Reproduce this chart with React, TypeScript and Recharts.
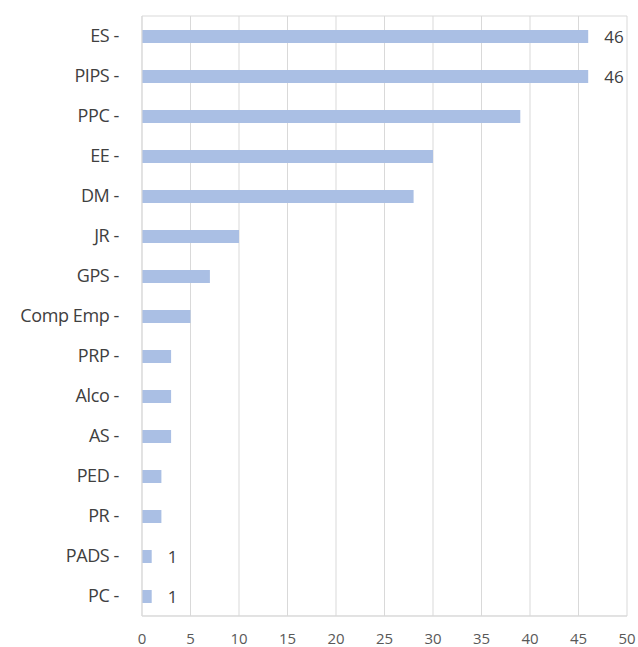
import { BarChart, Bar, XAxis, YAxis, CartesianGrid, LabelList } from "recharts"

const categories = [
  "ES", "PIPS", "PPC", "EE", "DM", "JR", "GPS", "Comp Emp",
  "PRP", "Alco", "AS", "PED", "PR", "PADS", "PC",
]
const counts = [46, 46, 39, 30, 28, 10, 7, 5, 3, 3, 3, 2, 2, 1, 1]
const labelled = ["ES", "PIPS", "PADS", "PC"]
const xTicks = [0, 5, 10, 15, 20, 25, 30, 35, 40, 45, 50]

const data = categories.map((name, i) => ({
  name,
  count: counts[i],
  label: labelled.includes(name) ? String(counts[i]) : "",
}))

const font = "'Open Sans', 'Liberation Sans', sans-serif"

export default function App() {
  return (
    <div style={{ position: "absolute", left: 0, top: 0, width: 638, height: 647, background: "#fff" }}>
      <BarChart
        width={638}
        height={647}
        data={data}
        layout="vertical"
        margin={{ top: 16, right: 11, left: 0, bottom: 0 }}
      >
        <CartesianGrid
          stroke="#d9d9d9"
          horizontalCoordinatesGenerator={({ offset }: any) => [offset.top, offset.top + offset.height]}
        />
        <XAxis
          type="number"
          domain={[0, 50]}
          ticks={xTicks}
          height={31}
          tickLine={false}
          tickSize={0}
          tickMargin={17}
          axisLine={{ stroke: "#d9d9d9" }}
          tick={{ fill: "#595959", fontSize: 15, fontFamily: font }}
        />
        <YAxis
          type="category"
          dataKey="name"
          width={142}
          tickLine={false}
          tickSize={0}
          tickMargin={23}
          axisLine={{ stroke: "#d9d9d9" }}
          tickFormatter={(v: string) => `${v} -`}
          tick={{ fill: "#404040", fontSize: 18, fontFamily: font, letterSpacing: -0.4 }}
        />
        <Bar dataKey="count" fill="#aabfe4" barSize={13} isAnimationActive={false}>
          <LabelList
            dataKey="label"
            position="right"
            offset={16}
            style={{ fill: "#404040", fontSize: 17, fontFamily: font }}
          />
        </Bar>
      </BarChart>
    </div>
  )
}
